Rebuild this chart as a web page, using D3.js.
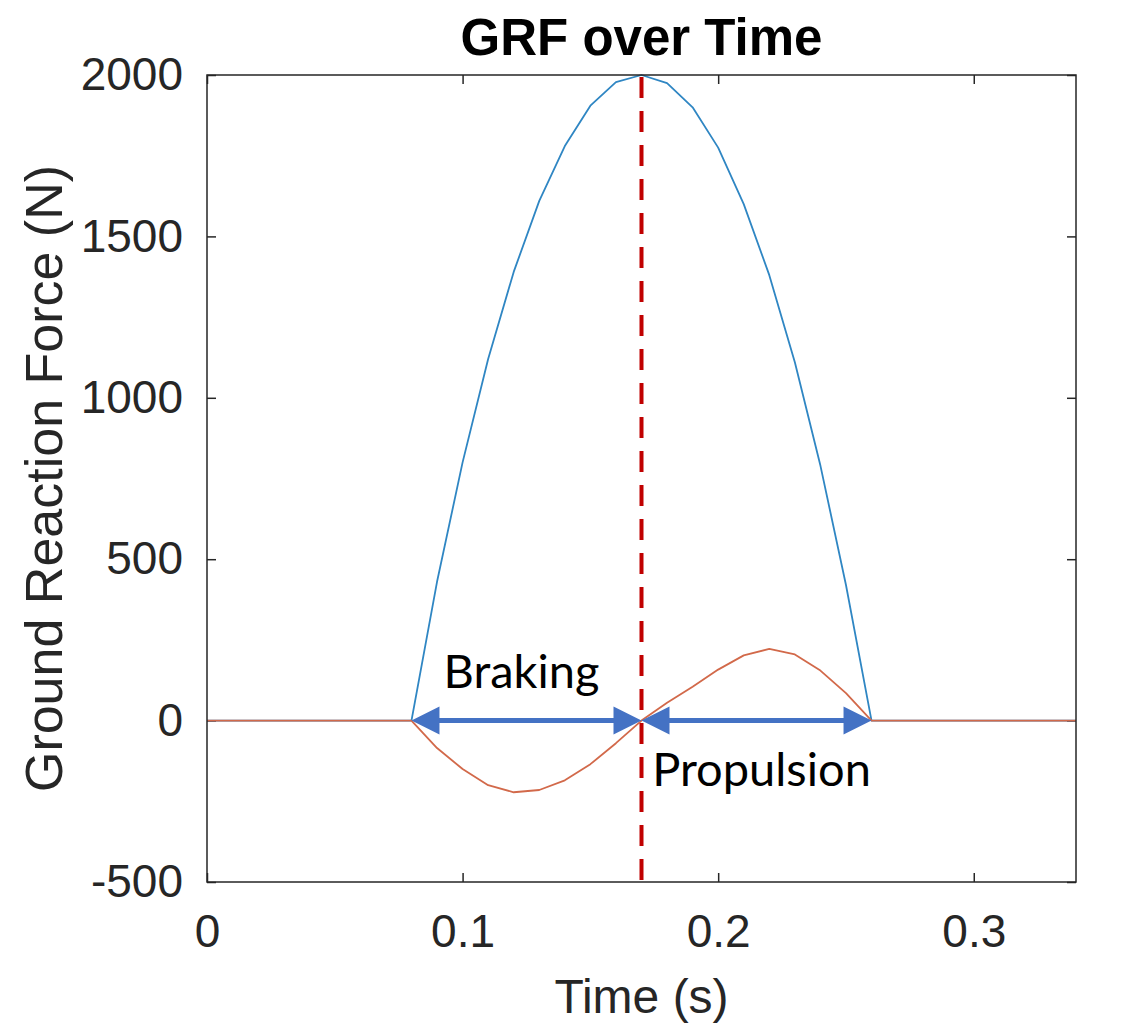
<!DOCTYPE html>
<html lang="en">

<head>
    <meta charset="UTF-8">
    <title>GRF over Time</title>
    <script src="https://d3js.org/d3.v7.min.js"></script>
    <style>
        body { margin: 0; background: #fff; }
        svg { display: block; }
    </style>
</head>

<body>
    <svg id="chart"></svg>
    <script>
        // values
        const time      = [0, 0.08, 0.09, 0.10, 0.11, 0.12, 0.13, 0.14, 0.15, 0.16, 0.17, 0.18, 0.19, 0.20, 0.21, 0.22, 0.23, 0.24, 0.25, 0.26, 0.34];
        const vertical  = [0, 0, 430, 800, 1120, 1390, 1610, 1780, 1905, 1978, 2000, 1975, 1900, 1775, 1600, 1380, 1110, 790, 420, 0, 0];
        const horizontal = [0, 0, -85, -150, -200, -222, -215, -185, -135, -70, 0, 55, 105, 158, 202, 222, 205, 155, 85, 0, 0];
        const xTicks = [0, 0.1, 0.2, 0.3];
        const yTicks = [-500, 0, 500, 1000, 1500, 2000];
        const peakTime = 0.17;
        const phases = [
            { label: "Braking",    from: 0.08, to: 0.17 },
            { label: "Propulsion", from: 0.17, to: 0.26 }
        ];

        const width = 1124, height = 1023;
        const margin = { top: 75, right: 48, bottom: 141, left: 207 };
        const innerW = width - margin.left - margin.right,
              innerH = height - margin.top - margin.bottom;

        const svg = d3.select("#chart")
            .attr("width", width)
            .attr("height", height)
            .attr("viewBox", [0, 0, width, height]);

        const x = d3.scaleLinear().domain([0, 0.34]).range([margin.left, margin.left + innerW]);
        const y = d3.scaleLinear().domain([-500, 2000]).range([margin.top + innerH, margin.top]);

        const axisColor = "#262626";
        const tickFont = "'Liberation Sans', Helvetica, Arial, sans-serif";
        const plain = d => String(d);

        // axes (ticks point inward, like MATLAB)
        const gx = svg.append("g")
            .attr("transform", `translate(0,${margin.top + innerH})`)
            .call(d3.axisBottom(x).tickValues(xTicks).tickFormat(plain).tickSizeInner(-9).tickSizeOuter(0).tickPadding(32));
        const gy = svg.append("g")
            .attr("transform", `translate(${margin.left},0)`)
            .call(d3.axisLeft(y).tickValues(yTicks).tickFormat(plain).tickSizeInner(-9).tickSizeOuter(0).tickPadding(24));
        const gt = svg.append("g")
            .attr("transform", `translate(0,${margin.top})`)
            .call(d3.axisTop(x).tickValues(xTicks).tickFormat("").tickSizeInner(-9).tickSizeOuter(0));
        const gr = svg.append("g")
            .attr("transform", `translate(${margin.left + innerW},0)`)
            .call(d3.axisRight(y).tickValues(yTicks).tickFormat("").tickSizeInner(-9).tickSizeOuter(0));

        [gx, gy, gt, gr].forEach(g => {
            g.select(".domain").remove();
            g.selectAll(".tick line").attr("stroke", axisColor).attr("stroke-width", 1.5);
            g.selectAll(".tick text")
                .attr("fill", axisColor)
                .style("font-family", tickFont)
                .style("font-size", "46px");
        });

        // curves
        const line = d3.line().x((d, i) => x(time[i]));
        const series = [
            { values: vertical,   color: "#2f86c3" },
            { values: horizontal, color: "#d2694a" }
        ];
        series.forEach(s => {
            svg.append("path")
                .datum(s.values)
                .attr("fill", "none")
                .attr("stroke", s.color)
                .attr("stroke-width", 1.8)
                .attr("stroke-linejoin", "round")
                .attr("d", line.y(d => y(d)));
        });

        // phase arrows
        const arrowColor = "#4472c4";
        const headL = 28, headW = 14;
        phases.forEach(p => {
            const x0 = x(p.from), x1 = x(p.to), y0 = y(0);
            svg.append("line")
                .attr("x1", x0 + headL - 2).attr("x2", x1 - headL + 2)
                .attr("y1", y0).attr("y2", y0)
                .attr("stroke", arrowColor)
                .attr("stroke-width", 5);
            svg.append("path")
                .attr("fill", arrowColor)
                .attr("d", `M${x0},${y0}L${x0 + headL},${y0 - headW}L${x0 + headL},${y0 + headW}Z
                            M${x1},${y0}L${x1 - headL},${y0 - headW}L${x1 - headL},${y0 + headW}Z`);
        });

        svg.append("text")
            .attr("x", x(0.125) - 5)
            .attr("y", y(0) - 33)
            .attr("text-anchor", "middle")
            .style("font-family", "Lato, 'Open Sans', sans-serif")
            .style("font-size", "47px")
            .text(phases[0].label);
        svg.append("text")
            .attr("x", x(0.215) + 5)
            .attr("y", y(0) + 65)
            .attr("text-anchor", "middle")
            .style("font-family", "Lato, 'Open Sans', sans-serif")
            .style("font-size", "47px")
            .text(phases[1].label);

        // peak marker
        svg.append("line")
            .attr("x1", x(peakTime)).attr("x2", x(peakTime))
            .attr("y1", y(2000) + 2).attr("y2", y(-500))
            .attr("stroke", "#c00000")
            .attr("stroke-width", 4)
            .attr("stroke-dasharray", "21,13");

        // box
        svg.append("rect")
            .attr("x", margin.left).attr("y", margin.top)
            .attr("width", innerW).attr("height", innerH)
            .attr("fill", "none")
            .attr("stroke", axisColor)
            .attr("stroke-width", 1.5);

        // titles
        svg.append("text")
            .attr("x", margin.left + innerW / 2)
            .attr("y", 55)
            .attr("text-anchor", "middle")
            .style("font-family", tickFont)
            .style("font-weight", "bold")
            .style("font-size", "51px")
            .text("GRF over Time");
        svg.append("text")
            .attr("x", margin.left + innerW / 2)
            .attr("y", 1013)
            .attr("text-anchor", "middle")
            .attr("fill", axisColor)
            .style("font-family", tickFont)
            .style("font-size", "48px")
            .text("Time (s)");
        svg.append("text")
            .attr("transform", `translate(62,${margin.top + innerH / 2}) rotate(-90)`)
            .attr("text-anchor", "middle")
            .attr("fill", axisColor)
            .style("font-family", tickFont)
            .style("font-size", "52px")
            .text("Ground Reaction Force (N)");
    </script>
</body>

</html>
